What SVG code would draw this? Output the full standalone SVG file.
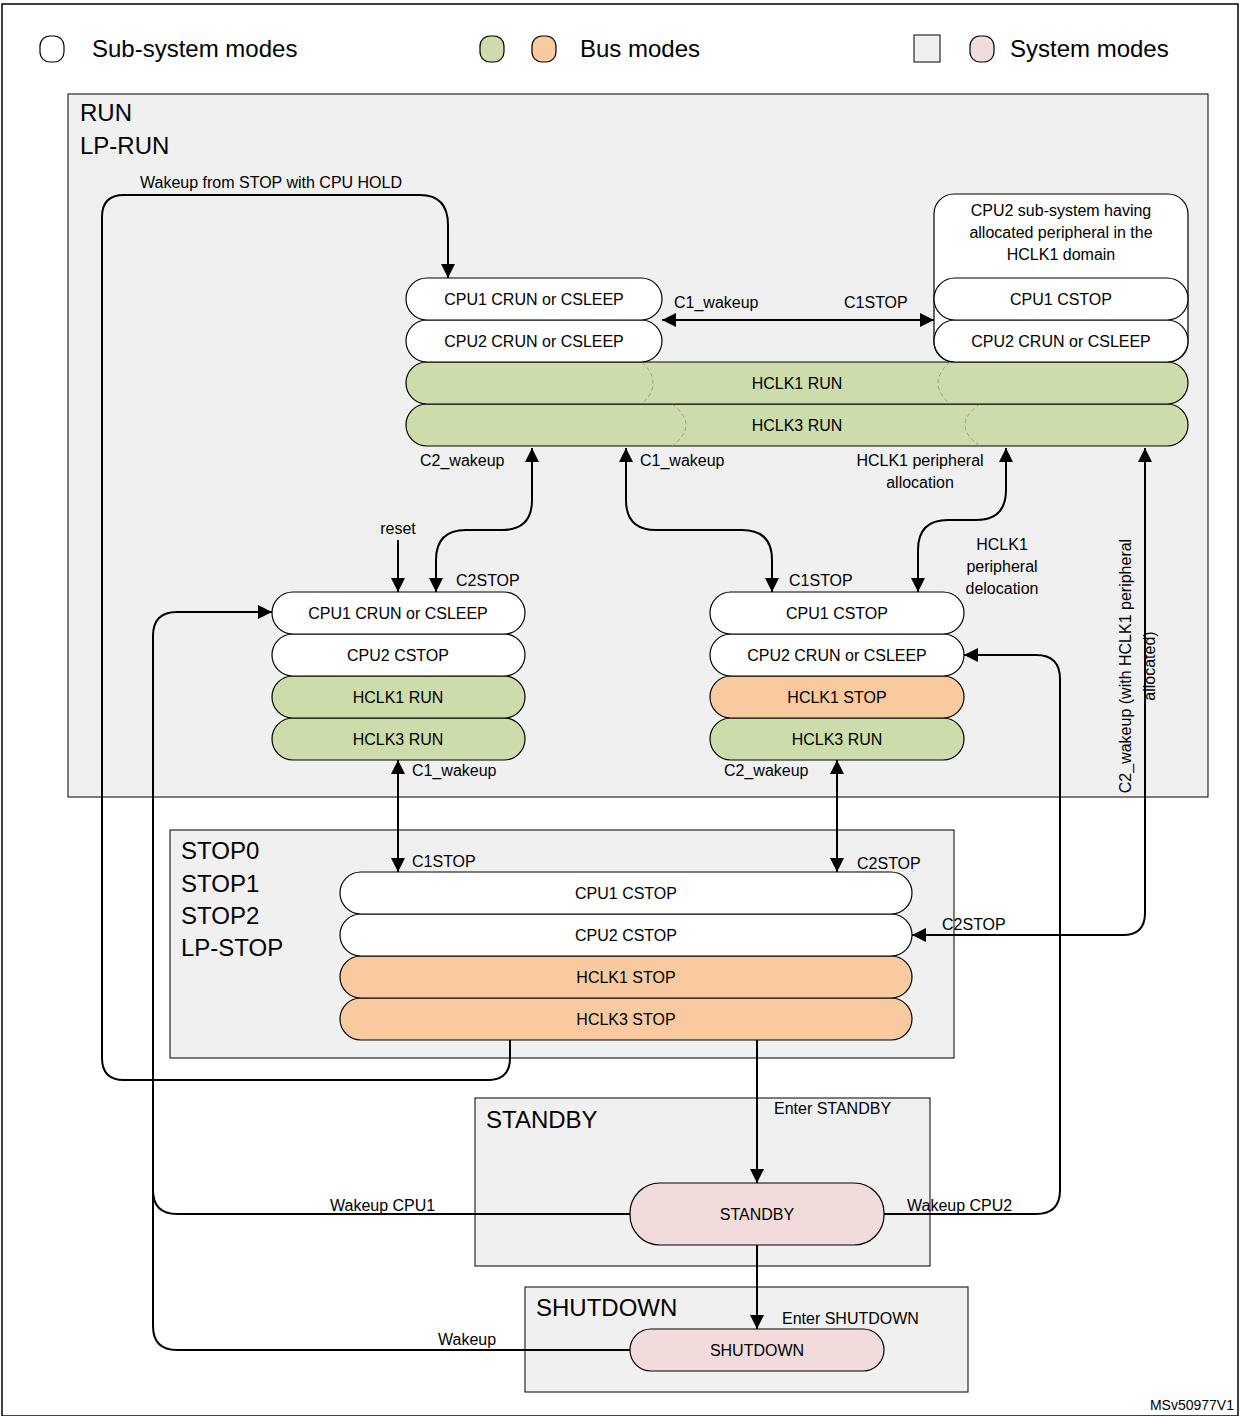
<svg xmlns="http://www.w3.org/2000/svg" width="1240" height="1416" viewBox="0 0 1240 1416">
<style>
text{font-family:"Liberation Sans",Arial,sans-serif;fill:#000}
.n{font-size:16px;text-anchor:middle;dominant-baseline:central}
.l{font-size:16px}
.big{font-size:24px}
.w{fill:#fff;stroke:#000;stroke-width:1.2}
.g{fill:#cddcab;stroke:#000;stroke-width:1.2}
.o{fill:#f9c9a0;stroke:#000;stroke-width:1.2}
.p{fill:#f2dcdb;stroke:#000;stroke-width:1.2}
.box{fill:#f0f0f0;stroke:#000;stroke-width:1}
.c{fill:none;stroke:#000;stroke-width:2}
.d{fill:none;stroke:#999;stroke-width:1;stroke-dasharray:4 3}
</style>
<defs>
<marker id="a" viewBox="0 0 14 14" refX="14" refY="7" markerWidth="14" markerHeight="14" markerUnits="userSpaceOnUse" orient="auto-start-reverse"><path d="M0,0 L14,7 L0,14 Z" fill="#000"/></marker>
</defs>
<rect x="2" y="4" width="1236" height="1412" fill="#fff" stroke="#000" stroke-width="1.5"/>
<g id="legend">
<rect x="40" y="36" width="24" height="26" rx="10" class="w"/>
<text x="92" y="57" class="big">Sub-system modes</text>
<rect x="480" y="36" width="24" height="26" rx="10" class="g"/>
<rect x="532" y="36" width="24" height="26" rx="10" class="o"/>
<text x="580" y="57" class="big">Bus modes</text>
<rect x="914" y="35" width="26" height="27" fill="#f0f0f0" stroke="#000"/>
<rect x="970" y="36" width="24" height="26" rx="10" class="p"/>
<text x="1010" y="57" class="big">System modes</text>
</g>
<g id="run">
<rect x="68" y="94" width="1140" height="703" class="box"/>
<text x="80" y="121" class="big">RUN</text>
<text x="80" y="154" class="big">LP-RUN</text>
</g>
<g id="stop">
<rect x="170" y="830" width="784" height="228" class="box"/>
<text x="181" y="859" class="big">STOP0</text>
<text x="181" y="892" class="big">STOP1</text>
<text x="181" y="924" class="big">STOP2</text>
<text x="181" y="956" class="big">LP-STOP</text>
</g>
<g id="standby">
<rect x="475" y="1098" width="455" height="168" class="box"/>
<text x="486" y="1128" class="big">STANDBY</text>
</g>
<g id="shutdown">
<rect x="525" y="1287" width="443" height="105" class="box"/>
<text x="536" y="1316" class="big">SHUTDOWN</text>
</g>
<g id="top-state">
<rect x="934" y="194" width="254" height="168" rx="20" class="w"/>
<text x="1061" y="210" class="n">CPU2 sub-system having</text>
<text x="1061" y="232" class="n">allocated peripheral in the</text>
<text x="1061" y="254" class="n">HCLK1 domain</text>
<rect x="406" y="404" width="782" height="42" rx="21" class="g"/>
<path d="M672,404 Q700,425 672,446 M980,404 Q950,425 980,446" class="d"/>
<text x="797" y="425" class="n">HCLK3 RUN</text>
<rect x="406" y="362" width="782" height="42" rx="21" class="g"/>
<path d="M642,362 Q664,383 642,404 M950,362 Q926,383 950,404" class="d"/>
<text x="797" y="383" class="n">HCLK1  RUN</text>
<rect x="406" y="320" width="256" height="42" rx="21" class="w"/>
<text x="534" y="341" class="n">CPU2 CRUN or CSLEEP</text>
<rect x="406" y="278" width="256" height="42" rx="21" class="w"/>
<text x="534" y="299" class="n">CPU1 CRUN or CSLEEP</text>
<rect x="934" y="320" width="254" height="42" rx="21" class="w"/>
<text x="1061" y="341" class="n">CPU2 CRUN or CSLEEP</text>
<rect x="934" y="278" width="254" height="42" rx="21" class="w"/>
<text x="1061" y="299" class="n">CPU1 CSTOP</text>
</g>
<g id="left-state">
<rect x="272" y="718" width="253" height="42" rx="21" class="g"/>
<text x="398" y="739" class="n">HCLK3  RUN</text>
<rect x="272" y="676" width="253" height="42" rx="21" class="g"/>
<text x="398" y="697" class="n">HCLK1 RUN</text>
<rect x="272" y="634" width="253" height="42" rx="21" class="w"/>
<text x="398" y="655" class="n">CPU2 CSTOP</text>
<rect x="272" y="592" width="253" height="42" rx="21" class="w"/>
<text x="398" y="613" class="n">CPU1 CRUN or CSLEEP</text>
</g>
<g id="right-state">
<rect x="710" y="718" width="254" height="42" rx="21" class="g"/>
<text x="837" y="739" class="n">HCLK3 RUN</text>
<rect x="710" y="676" width="254" height="42" rx="21" class="o"/>
<text x="837" y="697" class="n">HCLK1 STOP</text>
<rect x="710" y="634" width="254" height="42" rx="21" class="w"/>
<text x="837" y="655" class="n">CPU2 CRUN or CSLEEP</text>
<rect x="710" y="592" width="254" height="42" rx="21" class="w"/>
<text x="837" y="613" class="n">CPU1 CSTOP</text>
</g>
<g id="stop-state">
<rect x="340" y="998" width="572" height="42" rx="21" class="o"/>
<text x="626" y="1019" class="n">HCLK3 STOP</text>
<rect x="340" y="956" width="572" height="42" rx="21" class="o"/>
<text x="626" y="977" class="n">HCLK1 STOP</text>
<rect x="340" y="914" width="572" height="42" rx="21" class="w"/>
<text x="626" y="935" class="n">CPU2 CSTOP</text>
<rect x="340" y="872" width="572" height="42" rx="21" class="w"/>
<text x="626" y="893" class="n">CPU1 CSTOP</text>
</g>
<g id="standby-state">
<rect x="630" y="1183" width="254" height="62" rx="30" class="p"/>
<text x="757" y="1214" class="n">STANDBY</text>
</g>
<g id="shutdown-state">
<rect x="630" y="1329" width="254" height="42" rx="21" class="p"/>
<text x="757" y="1350" class="n">SHUTDOWN</text>
</g>
<g id="connectors">
<path d="M510,1040 V1058 Q510,1080 488,1080 H124 Q102,1080 102,1058 V217 Q102,195 124,195 H420 Q448,195 448,225 V278" class="c" marker-end="url(#a)"/>
<path d="M662,320 H934" class="c" marker-start="url(#a)" marker-end="url(#a)"/>
<path d="M532,448 V500 Q532,530 502,530 H466 Q436,530 436,560 V592" class="c" marker-start="url(#a)" marker-end="url(#a)"/>
<path d="M398,540 V592" class="c" marker-end="url(#a)"/>
<path d="M626,448 V500 Q626,530 656,530 H742 Q772,530 772,560 V592" class="c" marker-start="url(#a)" marker-end="url(#a)"/>
<path d="M1006,448 V490 Q1006,520 976,520 H948 Q918,520 918,550 V592" class="c" marker-start="url(#a)" marker-end="url(#a)"/>
<path d="M1145,448 V913 Q1145,935 1123,935 H912" class="c" marker-start="url(#a)" marker-end="url(#a)"/>
<path d="M398,760 V872" class="c" marker-start="url(#a)" marker-end="url(#a)"/>
<path d="M837,760 V872" class="c" marker-start="url(#a)" marker-end="url(#a)"/>
<path d="M757,1040 V1183" class="c" marker-end="url(#a)"/>
<path d="M757,1245 V1329" class="c" marker-end="url(#a)"/>
<path d="M630,1214 H177 Q153,1214 153,1190 V636 Q153,612 177,612 H272" class="c" marker-end="url(#a)"/>
<path d="M630,1350 H177 Q153,1350 153,1326 V1190" class="c"/>
<path d="M884,1214 H1036 Q1060,1214 1060,1190 V679 Q1060,655 1036,655 H964" class="c" marker-end="url(#a)"/>
<text x="140" y="188" class="l">Wakeup from STOP with CPU HOLD</text>
<text x="674" y="308" class="l">C1_wakeup</text>
<text x="844" y="308" class="l">C1STOP</text>
<text x="420" y="466" class="l">C2_wakeup</text>
<text x="640" y="466" class="l">C1_wakeup</text>
<text x="920" y="466" class="l" text-anchor="middle">HCLK1 peripheral</text>
<text x="920" y="488" class="l" text-anchor="middle">allocation</text>
<text x="398" y="534" class="l" text-anchor="middle">reset</text>
<text x="1002" y="550" class="l" text-anchor="middle">HCLK1</text>
<text x="1002" y="572" class="l" text-anchor="middle">peripheral</text>
<text x="1002" y="594" class="l" text-anchor="middle">delocation</text>
<text x="456" y="586" class="l">C2STOP</text>
<text x="789" y="586" class="l">C1STOP</text>
<text x="1131" y="666" class="l" text-anchor="middle" transform="rotate(-90 1131 666)">C2_wakeup (with HCLK1 peripheral</text>
<text x="1155" y="666" class="l" text-anchor="middle" transform="rotate(-90 1155 666)">allocated)</text>
<text x="412" y="776" class="l">C1_wakeup</text>
<text x="724" y="776" class="l">C2_wakeup</text>
<text x="412" y="867" class="l">C1STOP</text>
<text x="857" y="869" class="l">C2STOP</text>
<text x="942" y="930" class="l">C2STOP</text>
<text x="774" y="1114" class="l">Enter STANDBY</text>
<text x="330" y="1211" class="l">Wakeup CPU1</text>
<text x="907" y="1211" class="l">Wakeup CPU2</text>
<text x="782" y="1324" class="l">Enter SHUTDOWN</text>
<text x="438" y="1345" class="l">Wakeup</text>
</g>
<text x="1234" y="1410" font-size="14" text-anchor="end">MSv50977V1</text>
</svg>
